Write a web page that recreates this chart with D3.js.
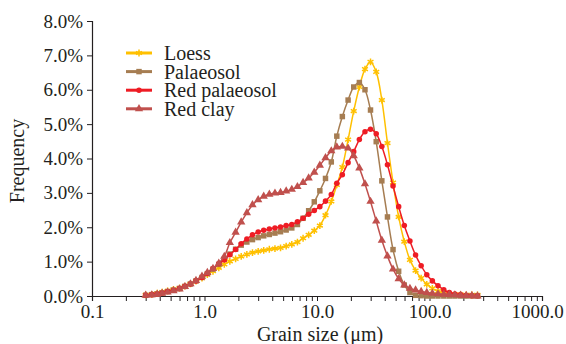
<!DOCTYPE html>
<html>
<head>
<meta charset="utf-8">
<script src="https://cdn.jsdelivr.net/npm/d3@7"></script>
<style>
  body { margin: 0; background: #fff; }
  text { font-family: "Liberation Serif", "DejaVu Serif", serif; fill: #231f20; }
</style>
</head>
<body>
<script>
// grain size classes (µm), bin centres
const grainSize = [0.30, 0.34, 0.38, 0.42, 0.47, 0.53, 0.60, 0.67, 0.75, 0.84,
  0.95, 1.06, 1.19, 1.34, 1.50, 1.68, 1.89, 2.12, 2.38, 2.67,
  3.00, 3.36, 3.77, 4.23, 4.74, 5.32, 5.97, 6.70, 7.52, 8.43,
  9.46, 10.6, 11.9, 13.4, 15.0, 16.8, 18.9, 21.2, 23.8, 26.7,
  29.9, 33.6, 37.7, 42.3, 47.4, 53.2, 59.7, 67.0, 75.2, 84.3,
  94.6, 106, 119, 134, 150, 168, 189, 212, 238, 267];

// frequency (%)
const loess = [0.03, 0.05, 0.08, 0.11, 0.15, 0.19, 0.23, 0.29, 0.35, 0.43,
  0.52, 0.62, 0.72, 0.82, 0.92, 1.01, 1.08, 1.15, 1.21, 1.26,
  1.30, 1.33, 1.36, 1.38, 1.40, 1.45, 1.50, 1.57, 1.68, 1.78,
  1.90, 2.05, 2.35, 2.75, 3.23, 3.75, 4.55, 5.38, 6.08, 6.60,
  6.81, 6.52, 5.70, 4.45, 3.30, 2.30, 1.58, 1.05, 0.74, 0.52,
  0.34, 0.22, 0.14, 0.09, 0.06, 0.05, 0.04, 0.03, 0.03, 0.03];

const palaeosol = [0.02, 0.04, 0.06, 0.09, 0.13, 0.17, 0.22, 0.28, 0.35, 0.44,
  0.54, 0.65, 0.78, 0.92, 1.07, 1.22, 1.36, 1.48, 1.57, 1.64,
  1.70, 1.75, 1.79, 1.83, 1.87, 1.92, 1.98, 2.08, 2.26, 2.48,
  2.74, 3.06, 3.42, 3.90, 4.65, 5.22, 5.70, 6.08, 6.21, 6.00,
  5.41, 4.49, 3.35, 2.30, 1.35, 0.72, 0.32, 0.10, 0.02, 0.01,
  0.00, 0.00, 0.00, 0.00, 0.00, 0.00, 0.00, 0.00, 0.00, 0.00];

const redPalaeosol = [0.02, 0.04, 0.06, 0.09, 0.13, 0.17, 0.22, 0.28, 0.35, 0.44,
  0.54, 0.66, 0.80, 0.94, 1.05, 1.20, 1.35, 1.52, 1.66, 1.78,
  1.86, 1.91, 1.95, 1.98, 2.01, 2.05, 2.08, 2.16, 2.26, 2.38,
  2.49, 2.60, 2.76, 2.95, 3.28, 3.53, 3.88, 4.20, 4.55, 4.78,
  4.85, 4.72, 4.35, 3.82, 3.20, 2.60, 2.05, 1.60, 1.19, 0.88,
  0.62, 0.44, 0.30, 0.18, 0.10, 0.06, 0.04, 0.02, 0.01, 0.01];

const redClay = [0.02, 0.03, 0.05, 0.08, 0.11, 0.15, 0.20, 0.27, 0.35, 0.45,
  0.57, 0.68, 0.80, 0.95, 1.15, 1.55, 1.85, 2.15, 2.42, 2.65,
  2.80, 2.90, 2.96, 2.99, 3.01, 3.05, 3.10, 3.18, 3.30, 3.43,
  3.60, 3.80, 4.02, 4.22, 4.33, 4.35, 4.30, 4.08, 3.72, 3.26,
  2.75, 2.18, 1.62, 1.16, 0.78, 0.50, 0.32, 0.22, 0.17, 0.13,
  0.10, 0.08, 0.06, 0.05, 0.04, 0.03, 0.02, 0.01, 0.01, 0.00];

const xTicks = [0.1, 1, 10, 100, 1000];
const yTicks = [0, 1, 2, 3, 4, 5, 6, 7, 8];

const series = [
  { name: "Loess", values: loess, color: "#FFC000", symbol: d3.symbolAsterisk, size: 32, stroked: true },
  { name: "Palaeosol", values: palaeosol, color: "#A67D52", symbol: d3.symbolSquare, size: 30, stroked: false },
  { name: "Red palaeosol", values: redPalaeosol, color: "#EE1C24", symbol: d3.symbolCircle, size: 24, stroked: false },
  { name: "Red clay", values: redClay, color: "#C0504D", symbol: d3.symbolTriangle, size: 30, stroked: false },
];

const width = 566, height = 344;
const margin = { top: 21, right: 24, bottom: 48, left: 92 };

const svg = d3.select("body").append("svg")
  .attr("width", width)
  .attr("height", height);

const x = d3.scaleLog()
  .domain([0.1, 1000])
  .range([margin.left, width - margin.right]);

const y = d3.scaleLinear()
  .domain([0, 8])
  .range([height - margin.bottom, margin.top]);

// minor ticks 1..9 per decade
const minorTicks = [];
for (let p = -1; p < 3; p++) {
  for (let k = 1; k < 10; k++) minorTicks.push(k * Math.pow(10, p));
}
minorTicks.push(1000);

const xAxis = svg.append("g")
  .attr("transform", `translate(0,${height - margin.bottom})`)
  .call(d3.axisBottom(x)
    .tickValues(minorTicks)
    .tickSize(5)
    .tickFormat(d => xTicks.some(t => Math.abs(t - d) < 1e-9) ? d3.format(".1f")(d) : ""));
xAxis.select(".domain").attr("stroke", "#231f20").attr("stroke-width", 1.2);
xAxis.selectAll(".tick line").attr("stroke", "#231f20");
xAxis.selectAll(".tick text")
  .attr("y", 9)
  .attr("dx", d => d >= 1000 ? -5 : 0)
  .style("font-size", "19px")
  .style("font-family", "Liberation Serif, serif")
  .attr("fill", "#231f20");

const yAxis = svg.append("g")
  .attr("transform", `translate(${margin.left},0)`)
  .call(d3.axisLeft(y)
    .tickValues(yTicks)
    .tickSize(5)
    .tickFormat(d => d3.format(".1f")(d) + "%"));
yAxis.select(".domain").attr("stroke", "#231f20").attr("stroke-width", 1.2);
yAxis.selectAll(".tick line").attr("stroke", "#231f20");
yAxis.selectAll(".tick text")
  .attr("x", -9)
  .style("font-size", "19px")
  .style("font-family", "Liberation Serif, serif")
  .attr("fill", "#231f20");

const line = d3.line()
  .x((d, i) => x(grainSize[i]))
  .y(d => y(d))
  .curve(d3.curveCatmullRom.alpha(0.5));

const plot = svg.append("g");

series.forEach(s => {
  plot.append("path")
    .datum(s.values)
    .attr("fill", "none")
    .attr("stroke", s.color)
    .attr("stroke-width", 1.5)
    .attr("d", line);

  plot.selectAll(null)
    .data(s.values)
    .join("path")
    .attr("transform", (d, i) => `translate(${x(grainSize[i])},${y(d)})`)
    .attr("d", d3.symbol().type(s.symbol).size(s.size))
    .attr("fill", s.stroked ? "none" : s.color)
    .attr("stroke", s.stroked ? s.color : "none")
    .attr("stroke-width", 1.5);
});

// legend
const legend = svg.append("g");
series.forEach((s, i) => {
  const ly = 53 + i * 18.6;
  legend.append("line")
    .attr("x1", 126).attr("x2", 152)
    .attr("y1", ly).attr("y2", ly)
    .attr("stroke", s.color)
    .attr("stroke-width", 3);
  legend.append("path")
    .attr("transform", `translate(139,${ly})`)
    .attr("d", d3.symbol().type(s.symbol).size(s.size))
    .attr("fill", s.stroked ? "none" : s.color)
    .attr("stroke", s.stroked ? s.color : "none")
    .attr("stroke-width", 1.5);
  legend.append("text")
    .attr("x", 164)
    .attr("y", ly)
    .attr("dy", "0.35em")
    .style("font-size", "20px")
    .text(s.name);
});

// axis titles
svg.append("text")
  .attr("x", 320)
  .attr("y", 341)
  .attr("text-anchor", "middle")
  .style("font-size", "20px")
  .text("Grain size (μm)");

svg.append("text")
  .attr("transform", "translate(24,161) rotate(-90)")
  .attr("text-anchor", "middle")
  .style("font-size", "20px")
  .text("Frequency");
</script>
</body>
</html>
